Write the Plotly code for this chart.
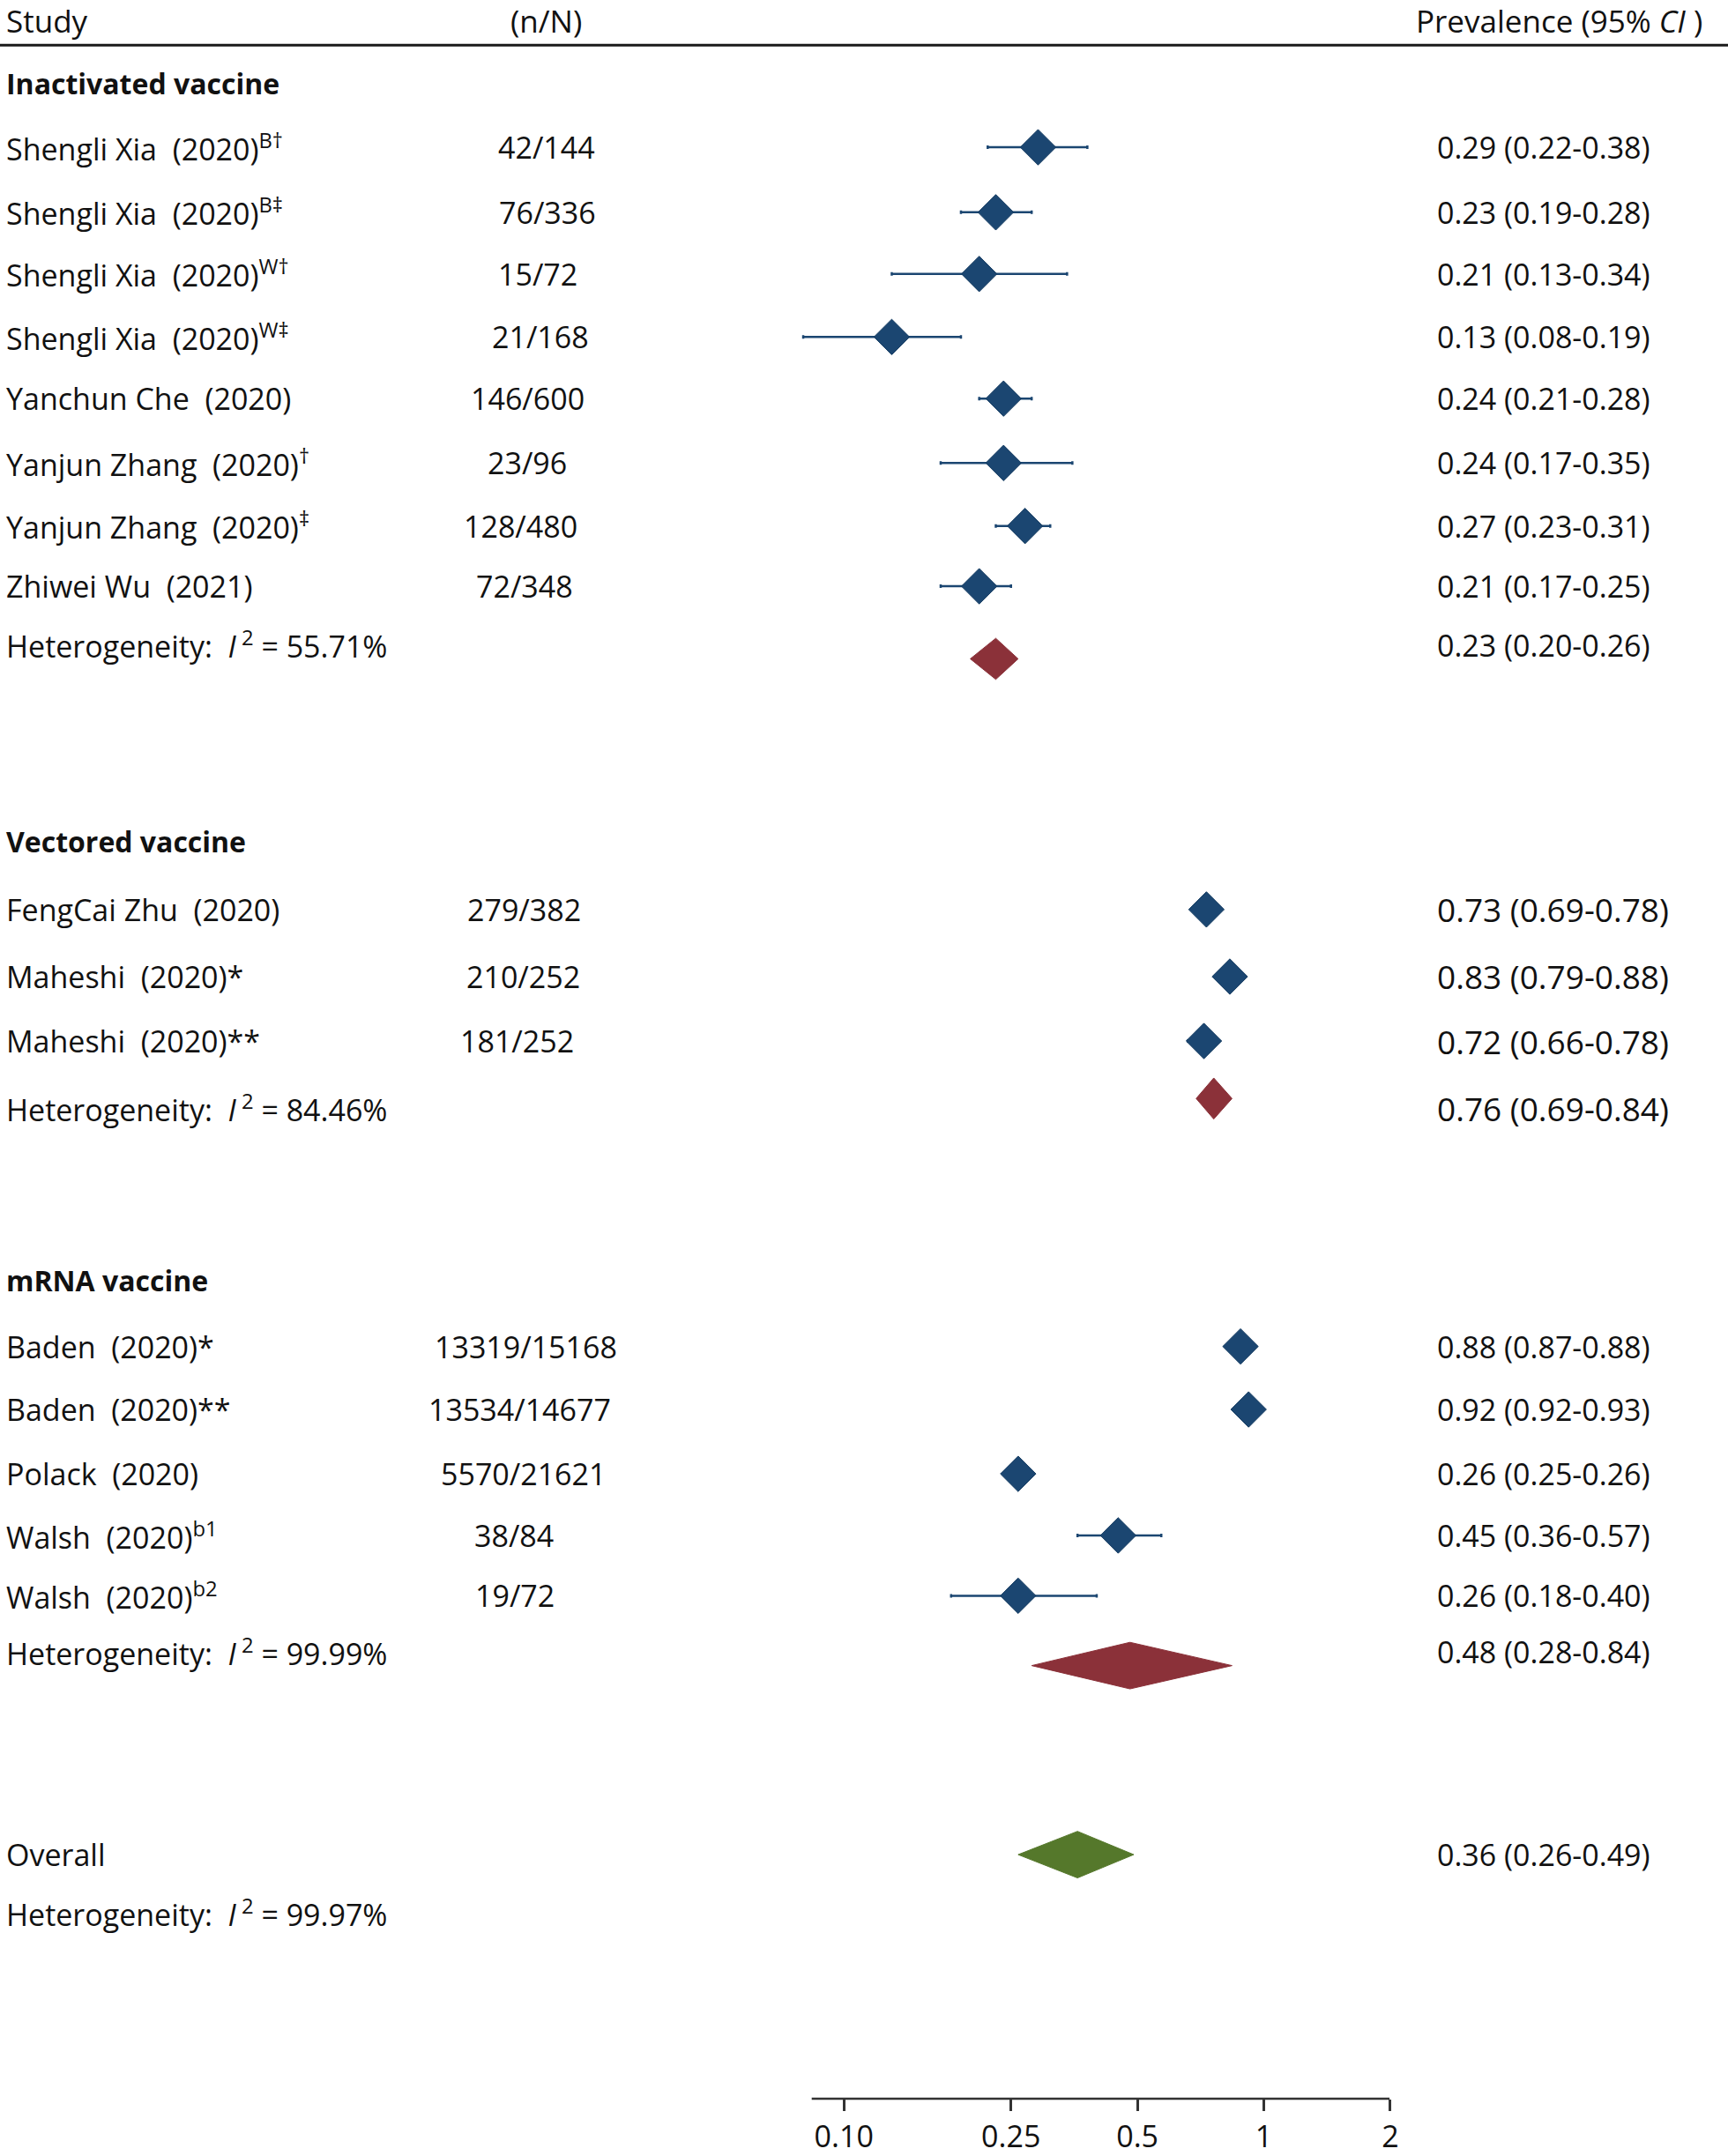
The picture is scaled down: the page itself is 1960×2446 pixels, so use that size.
import plotly.graph_objects as go

# ---------------- data ----------------
GROUPS = ["Inactivated vaccine", "Vectored vaccine", "mRNA vaccine"]
STUDY_GROUP = [0, 0, 0, 0, 0, 0, 0, 0, 1, 1, 1, 2, 2, 2, 2, 2]
AUTHORS = ["Shengli Xia", "Shengli Xia", "Shengli Xia", "Shengli Xia", "Yanchun Che",
           "Yanjun Zhang", "Yanjun Zhang", "Zhiwei Wu", "FengCai Zhu", "Maheshi", "Maheshi",
           "Baden", "Baden", "Polack", "Walsh", "Walsh"]
YEARS = [2020, 2020, 2020, 2020, 2020, 2020, 2020, 2021, 2020, 2020, 2020, 2020, 2020, 2020, 2020, 2020]
SUPERSCRIPTS = ["B†", "B‡", "W†", "W‡", "", "†", "‡", "", "", "", "", "", "", "", "b1", "b2"]
SUFFIXES = ["", "", "", "", "", "", "", "", "", "*", "**", "*", "**", "", "", ""]
EVENTS = [42, 76, 15, 21, 146, 23, 128, 72, 279, 210, 181, 13319, 13534, 5570, 38, 19]
TOTALS = [144, 336, 72, 168, 600, 96, 480, 348, 382, 252, 252, 15168, 14677, 21621, 84, 72]
PREV = [0.29, 0.23, 0.21, 0.13, 0.24, 0.24, 0.27, 0.21, 0.73, 0.83, 0.72, 0.88, 0.92, 0.26, 0.45, 0.26]
LOWER = [0.22, 0.19, 0.13, 0.08, 0.21, 0.17, 0.23, 0.17, 0.69, 0.79, 0.66, 0.87, 0.92, 0.25, 0.36, 0.18]
UPPER = [0.38, 0.28, 0.34, 0.19, 0.28, 0.35, 0.31, 0.25, 0.78, 0.88, 0.78, 0.88, 0.93, 0.26, 0.57, 0.40]

POOLED_EST = [0.23, 0.76, 0.48]
POOLED_LO = [0.20, 0.69, 0.28]
POOLED_HI = [0.26, 0.84, 0.84]
POOLED_I2 = ["55.71", "84.46", "99.99"]

OVERALL_EST = 0.36
OVERALL_LO = 0.26
OVERALL_HI = 0.49
OVERALL_I2 = "99.97"

TICK_VALS = [0.10, 0.25, 0.5, 1, 2]
TICK_TEXT = ["0.10", "0.25", "0.5", "1", "2"]

# ---------------- layout (positions in reference units, 1256 x 1568 grid) ----------------
W, H = 1960, 2446
REF_W = 1256.0
Y_BOTTOM = 1532.2          # reference-unit y of the bottom axis line
HEADER_Y = 15
HEADER_LINE_Y = 33
GROUP_Y = [61, 614, 935]
ROW_Y = [107.5, 155, 200, 246, 291, 338, 384, 428,
         664, 713, 760,
         983, 1029, 1076, 1121, 1165]
POOLED_TEXT_Y = [471, 809, 1206]
POOLED_DIAMOND_Y = [481, 802, 1216]
OVERALL_Y = 1354
OVERALL_HET_Y = 1397
NN_XC = [397.5, 398, 391, 392.5, 383.5, 383, 378.5, 381,
         381, 380.5, 376,
         382, 378, 380.5, 373.5, 374]
NAME_X = 3
NN_HEADER_X = 397
VAL_X = 1043
VAL_HEADER_X = 1028
AXIS_LINE_X = (590, 1010)
DIAMOND_HALF_H = [15, 15, 17]
OVERALL_HALF_H = 17

# log-x mapping: x_full = a + b*log10(v)
A_FULL = 1433.5
B_FULL = 476.3
XR = [(0 - A_FULL) / B_FULL, (W - A_FULL) / B_FULL]

BLUE = "#1b4671"
BLUE_EDGE = "#133a60"
RED = "#8b3139"
GREEN = "#55782b"
FONT = "Open Sans"
TXT = "#111111"

NB = "\u00a0"

fig = go.Figure()

# study CIs + diamonds
fig.add_trace(go.Scatter(
    x=PREV, y=ROW_Y, mode="markers",
    marker=dict(symbol="diamond", size=31, color=BLUE, line=dict(color=BLUE_EDGE, width=1)),
    error_x=dict(type="data", symmetric=False,
                 array=[h - p for h, p in zip(UPPER, PREV)],
                 arrayminus=[p - l for p, l in zip(PREV, LOWER)],
                 thickness=2.5, width=2, color=BLUE),
    hoverinfo="skip", showlegend=False))

# pooled diamonds
for g in range(len(GROUPS)):
    yc, hh = POOLED_DIAMOND_Y[g], DIAMOND_HALF_H[g]
    fig.add_trace(go.Scatter(
        x=[POOLED_LO[g], POOLED_EST[g], POOLED_HI[g], POOLED_EST[g], POOLED_LO[g]],
        y=[yc, yc - hh, yc, yc + hh, yc],
        mode="lines", fill="toself", fillcolor=RED,
        line=dict(color=RED, width=1), hoverinfo="skip", showlegend=False))

# overall diamond
fig.add_trace(go.Scatter(
    x=[OVERALL_LO, OVERALL_EST, OVERALL_HI, OVERALL_EST, OVERALL_LO],
    y=[OVERALL_Y, OVERALL_Y - OVERALL_HALF_H, OVERALL_Y, OVERALL_Y + OVERALL_HALF_H, OVERALL_Y],
    mode="lines", fill="toself", fillcolor=GREEN,
    line=dict(color=GREEN, width=1), hoverinfo="skip", showlegend=False))

ann = []


def add_text(x_ref, y, text, size=34, anchor="left"):
    ann.append(dict(x=x_ref / REF_W, y=y, xref="paper", yref="y", text=text,
                    showarrow=False, xanchor=anchor, yanchor="middle",
                    font=dict(family=FONT, size=size, color=TXT)))


# headers
add_text(NAME_X, HEADER_Y, "Study", size=35)
add_text(NN_HEADER_X, HEADER_Y, "(n/N)", size=35, anchor="center")
add_text(VAL_HEADER_X, HEADER_Y, f"Prevalence (95%{NB}<i>CI</i>{NB})", size=35)

for g, gname in enumerate(GROUPS):
    add_text(NAME_X, GROUP_Y[g], f"<b>{gname}</b>", size=32)

for i in range(len(AUTHORS)):
    name = f"{AUTHORS[i]}{NB}{NB}({YEARS[i]}){SUFFIXES[i]}"
    if SUPERSCRIPTS[i]:
        name += f"<sup>{SUPERSCRIPTS[i]}</sup>"
    add_text(NAME_X, ROW_Y[i], name)
    add_text(NN_XC[i], ROW_Y[i], f"{EVENTS[i]}/{TOTALS[i]}", anchor="center")
    vsize = 37 if STUDY_GROUP[i] == 1 else 34
    add_text(VAL_X, ROW_Y[i], f"{PREV[i]:.2f} ({LOWER[i]:.2f}-{UPPER[i]:.2f})", size=vsize)

for g in range(len(GROUPS)):
    add_text(NAME_X, POOLED_TEXT_Y[g], f"Heterogeneity:{NB}{NB}<i>I</i><sup>{NB}2</sup>{NB}={NB}{POOLED_I2[g]}%")
    vsize = 37 if g == 1 else 34
    add_text(VAL_X, POOLED_TEXT_Y[g], f"{POOLED_EST[g]:.2f} ({POOLED_LO[g]:.2f}-{POOLED_HI[g]:.2f})", size=vsize)

add_text(NAME_X, OVERALL_Y, "Overall")
add_text(VAL_X, OVERALL_Y, f"{OVERALL_EST:.2f} ({OVERALL_LO:.2f}-{OVERALL_HI:.2f})")
add_text(NAME_X, OVERALL_HET_Y, f"Heterogeneity:{NB}{NB}<i>I</i><sup>{NB}2</sup>{NB}={NB}{OVERALL_I2}%")

shapes = [
    dict(type="line", xref="paper", yref="y", x0=0, x1=1, y0=HEADER_LINE_Y, y1=HEADER_LINE_Y,
         line=dict(color="#1a1a1a", width=3)),
    dict(type="line", xref="paper", yref="paper", x0=AXIS_LINE_X[0] / REF_W, x1=AXIS_LINE_X[1] / REF_W,
         y0=0, y1=0, line=dict(color="#333333", width=2.5)),
]

fig.update_layout(
    width=W, height=H,
    margin=dict(l=0, r=0, t=0, b=H - round(Y_BOTTOM * H / 1568.0), pad=0),
    paper_bgcolor="white", plot_bgcolor="white",
    showlegend=False,
    annotations=ann, shapes=shapes,
    xaxis=dict(type="log", range=XR, showgrid=False, zeroline=False, showline=False,
               tickmode="array", tickvals=TICK_VALS, ticktext=TICK_TEXT,
               ticks="outside", ticklen=13, tickwidth=2.5, tickcolor="#333333",
               tickfont=dict(family=FONT, size=34, color=TXT), fixedrange=True),
    yaxis=dict(range=[Y_BOTTOM, 0], visible=False, fixedrange=True),
)

fig.write_html("out.html",
               config={"displayModeBar": False},
               post_script="document.body.style.margin='0';document.body.style.overflow='hidden';")
